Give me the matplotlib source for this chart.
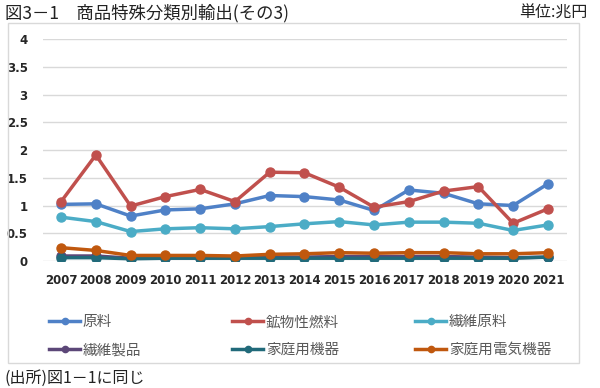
import matplotlib
matplotlib.use("Agg")
import numpy as np
from matplotlib import pyplot as plt
from matplotlib.lines import Line2D
from matplotlib.patches import Rectangle

plt.rcParams["font.family"] = ["Noto Sans CJK JP", "DejaVu Sans"]

years = ["2007", "2008", "2009", "2010", "2011", "2012", "2013", "2014",
         "2015", "2016", "2017", "2018", "2019", "2020", "2021"]

raw_materials = [1.02, 1.03, 0.81, 0.92, 0.94, 1.03, 1.18, 1.16, 1.10, 0.91,
                 1.28, 1.22, 1.03, 1.00, 1.39]
mineral_fuels = [1.07, 1.91, 0.99, 1.16, 1.29, 1.07, 1.60, 1.59, 1.33, 0.97,
                 1.07, 1.26, 1.34, 0.68, 0.94]
textile_materials = [0.79, 0.71, 0.53, 0.58, 0.60, 0.58, 0.62, 0.67, 0.71, 0.65,
                     0.70, 0.70, 0.68, 0.55, 0.65]
textile_products = [0.09, 0.09, 0.05, 0.06, 0.06, 0.06, 0.07, 0.07, 0.08, 0.08,
                    0.08, 0.08, 0.07, 0.06, 0.07]
home_appliances = [0.06, 0.06, 0.04, 0.05, 0.05, 0.05, 0.05, 0.05, 0.05, 0.05,
                   0.05, 0.05, 0.05, 0.05, 0.07]
home_electric = [0.24, 0.19, 0.10, 0.10, 0.10, 0.09, 0.12, 0.13, 0.15, 0.14,
                 0.15, 0.15, 0.13, 0.13, 0.15]

series_names = ["原料", "鉱物性燃料", "繊維原料", "繊維製品", "家庭用機器", "家庭用電気機器"]
series_values = [raw_materials, mineral_fuels, textile_materials,
                 textile_products, home_appliances, home_electric]
colors = ["#4F81C7", "#C0504D", "#4BACC6", "#5C4778", "#216A7A", "#C0580E"]
y_ticks = [0, 0.5, 1, 1.5, 2, 2.5, 3, 3.5, 4]
y_tick_labels = ["0", "0.5", "1", "1.5", "2", "2.5", "3", "3.5", "4"]

fig = plt.figure(figsize=(6.0, 3.88), dpi=100)
ax = fig.add_axes([43 / 600, 1 - 261 / 388, 524 / 600, 222 / 388])

# outer frame around chart area
fig.patches.append(Rectangle((8 / 600, 1 - 363 / 388), 571 / 600, 340 / 388,
                             transform=fig.transFigure, fill=False,
                             edgecolor="#D9D9D9", linewidth=1.0))

x = np.arange(len(years))
# draw lowest series first so the order on top matches reference
for idx in [5, 3, 4, 2, 0, 1]:
    ax.plot(x, series_values[idx], color=colors[idx], linewidth=2.5,
            marker="o", markersize=6.5, zorder=3 + idx * 0.1)

ax.set_xlim(-0.52, len(years) - 1 + 0.55)
ax.set_ylim(0, 4)
ax.set_yticks(y_ticks)
ax.set_yticklabels(y_tick_labels)
ax.set_xticks(x)
ax.set_xticklabels(years)
for lab in ax.get_xticklabels() + ax.get_yticklabels():
    lab.set_family(["Liberation Sans Narrow", "DejaVu Sans"])
    lab.set_fontweight("bold")
    lab.set_color("#262626")
    lab.set_fontsize(8.5)
ax.tick_params(axis="both", length=0)
ax.tick_params(axis="x", pad=9)
ax.tick_params(axis="y", pad=11)
ax.grid(axis="y", color="#D9D9D9", linewidth=1.0)
ax.set_axisbelow(True)
for sp in ax.spines.values():
    sp.set_visible(False)

# legend: three columns, two rows
col_x = [42 / 600, 225 / 600, 408 / 600]
for k in range(3):
    handles = []
    for idx in (k, k + 3):
        handles.append(Line2D([], [], color=colors[idx], linewidth=2.5,
                              marker="o", markersize=4.5))
    fig.legend(handles, [series_names[k], series_names[k + 3]],
               loc="upper left", bbox_to_anchor=(col_x[k], 1 - 308 / 388),
               frameon=False, fontsize=10.5, handlelength=2.1, handletextpad=0.2,
               labelspacing=0.95, labelcolor="#595959", borderpad=0)

fig.text(5 / 600, 1 - 13 / 388, "図3－1　商品特殊分類別輸出(その3)",
         fontsize=12.5, va="center", ha="left", color="#222222")
fig.text(588 / 600, 1 - 13 / 388, "単位:兆円", fontsize=11.5,
         va="center", ha="right", color="#222222")
fig.text(5 / 600, 1 - 378 / 388, "(出所)図1－1に同じ", fontsize=11.5,
         va="center", ha="left", color="#222222")

fig.savefig("out.png", dpi=100)
plt.close(fig)
